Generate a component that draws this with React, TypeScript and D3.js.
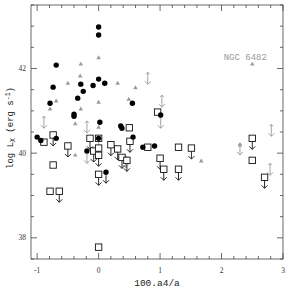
import React from "react";
import * as d3 from "d3";

// filled circles: detections
const circles: [number, number][] = [
  [0, 42.98], [0, 42.79], [-0.69, 42.08], [-0.74, 41.56], [-0.79, 41.18],
  [0, 41.75], [-0.29, 41.63], [-0.09, 41.6], [0.1, 41.65], [-0.25, 41.46],
  [-0.34, 41.3], [-0.4, 40.92], [-0.4, 40.87], [0.02, 40.73], [0.55, 41.18],
  [0.36, 40.64], [0.38, 40.59], [-1.0, 40.38], [-0.94, 40.3], [-0.69, 40.35],
  [0.56, 40.38], [0.72, 40.14], [1.01, 40.9], [0.91, 40.17], [-0.19, 40.05],
  [0, 40.35]
];
// filled circles with upper limit arrow
const circleLimits: [number, number][] = [[0.12, 39.55]];
// open squares
const squares: [number, number][] = [
  [0.96, 40.97], [-0.89, 40.26], [-0.74, 39.72], [-0.79, 39.1], [0, 37.78],
  [1.3, 40.14], [0.5, 40.6], [2.5, 39.83], [0.8, 40.14], [0, 40.35]
];
// open squares with upper limit arrow
const squareLimits: [number, number][] = [
  [-0.74, 40.43], [-0.5, 40.17], [-0.64, 39.1], [-0.14, 40.35], [-0.08, 40.05],
  [0, 40.12], [0, 39.95], [0, 39.5], [0.2, 40.2], [0.31, 40.1], [0.38, 39.9],
  [0.46, 39.83], [0.51, 40.28], [1.51, 40.12], [1.0, 39.88], [1.06, 39.62],
  [1.3, 39.62], [2.5, 40.35], [2.7, 39.43]
];
// grey triangles
const triangles: [number, number][] = [
  [-0.29, 42.1], [-0.3, 41.82], [-0.5, 41.65], [-0.69, 41.23], [-0.79, 41.04],
  [-0.29, 41.04], [-0.38, 40.69], [0, 42.25], [0, 41.2], [0, 40.61],
  [0.31, 41.65], [0.6, 41.54], [0.49, 41.27], [2.5, 42.1], [2.3, 40.19],
  [1.67, 39.81], [-0.38, 39.95]
];
// grey double arrows
const greyArrows: [number, number][] = [
  [-0.89, 40.73], [-0.19, 40.62], [0.8, 41.77], [1.03, 41.23], [1.01, 40.73],
  [2.81, 40.54], [2.3, 40.1], [2.79, 39.62], [-0.19, 39.9], [0, 40.2], [0.44, 39.8]
];
const xTicks = [-1, 0, 1, 2, 3];
const yTicks = [38, 40, 42];

const App = () => {
  const ref = React.useRef<SVGSVGElement>(null);

  React.useEffect(() => {
    const width = 289;
    const height = 300;
    const margin = { left: 31, right: 6, top: 5, bottom: 41 };

    const svg = d3.select(ref.current);
    svg.selectAll("*").remove();

    const x = d3.scaleLinear().domain([-1.1, 3]).range([margin.left, width - margin.right]);
    const y = d3.scaleLinear().domain([37.5, 43.5]).range([height - margin.bottom, margin.top]);
    const [x0, x1] = x.range();
    const [y0, y1] = y.range();
    const grey = "#9a9a9a";

    // frame
    svg.append("rect")
      .attr("x", x0).attr("y", y1)
      .attr("width", x1 - x0).attr("height", y0 - y1)
      .attr("fill", "none").attr("stroke", "#444").attr("stroke-width", 0.8);

    // ticks, inward on all four sides
    const ticks = svg.append("g").attr("stroke", "#444").attr("stroke-width", 0.8);
    d3.range(-1, 3.001, 0.2).forEach(v => {
      const major = Math.abs(v - Math.round(v)) < 1e-6;
      const len = major ? 6 : 3;
      ticks.append("line").attr("x1", x(v)).attr("x2", x(v)).attr("y1", y0).attr("y2", y0 - len);
      ticks.append("line").attr("x1", x(v)).attr("x2", x(v)).attr("y1", y1).attr("y2", y1 + len);
    });
    d3.range(37.5, 43.501, 0.5).forEach(v => {
      const major = Math.abs(v - Math.round(v)) < 1e-6 && Math.round(v) % 2 === 0;
      const len = major ? 6 : 3;
      ticks.append("line").attr("y1", y(v)).attr("y2", y(v)).attr("x1", x0).attr("x2", x0 + len);
      ticks.append("line").attr("y1", y(v)).attr("y2", y(v)).attr("x1", x1).attr("x2", x1 - len);
    });

    // tick labels
    svg.append("g").selectAll("text").data(xTicks).join("text")
      .attr("x", d => x(d)).attr("y", y0 + 14)
      .attr("text-anchor", "middle")
      .attr("font-family", "Liberation Serif").attr("font-size", 7.5).attr("fill", "#333")
      .text(d => d);
    svg.append("g").selectAll("text").data(yTicks).join("text")
      .attr("x", x0 - 5).attr("y", d => y(d) + 2.5)
      .attr("text-anchor", "end")
      .attr("font-family", "Liberation Serif").attr("font-size", 7.5).attr("fill", "#333")
      .text(d => d);

    // axis titles
    svg.append("text")
      .attr("x", (x0 + x1) / 2 + 0).attr("y", height - 14)
      .attr("text-anchor", "middle")
      .attr("font-family", "Liberation Mono").attr("font-size", 9.5).attr("fill", "#222")
      .text("100.a4/a");
    const yl = svg.append("text")
      .attr("transform", `translate(13,${(y0 + y1) / 2 - 4}) rotate(-90)`)
      .attr("text-anchor", "middle")
      .attr("font-family", "Liberation Mono").attr("font-size", 9).attr("fill", "#222");
    yl.append("tspan").text("log L");
    yl.append("tspan").attr("font-size", 6.5).attr("dy", 2).text("X");
    yl.append("tspan").attr("dy", -2).text(" (erg s");
    yl.append("tspan").attr("font-size", 6.5).attr("dy", -3).text("-1");
    yl.append("tspan").attr("dy", 3).text(")");

    // grey triangles
    svg.append("g").selectAll("path").data(triangles).join("path")
      .attr("transform", d => `translate(${x(d[0])},${y(d[1])})`)
      .attr("d", d3.symbol(d3.symbolTriangle, 9)())
      .attr("fill", grey);

    // grey double arrows
    const ga = svg.append("g").attr("stroke", grey).attr("stroke-width", 0.9).attr("fill", "none");
    greyArrows.forEach(([a, b]) => {
      const px = x(a), py = y(b);
      ga.append("path").attr("d",
        `M${px},${py - 6}L${px},${py + 6}` +
        `M${px - 1.8},${py - 4}L${px},${py - 6}L${px + 1.8},${py - 4}` +
        `M${px - 3},${py + 3}L${px},${py + 6}L${px + 3},${py + 3}`);
    });

    // down arrows for upper limits
    const arrows = svg.append("g").attr("stroke", "#111").attr("stroke-width", 0.9).attr("fill", "none");
    [...squareLimits, ...circleLimits].forEach(([a, b]) => {
      const px = x(a), py = y(b);
      arrows.append("path").attr("d",
        `M${px},${py + 3}L${px},${py + 11}M${px - 3},${py + 8}L${px},${py + 11}L${px + 3},${py + 8}`);
    });

    // open squares
    svg.append("g").selectAll("rect").data([...squares, ...squareLimits]).join("rect")
      .attr("x", d => x(d[0]) - 3.2).attr("y", d => y(d[1]) - 3.2)
      .attr("width", 6.4).attr("height", 6.4)
      .attr("fill", "white").attr("stroke", "#111").attr("stroke-width", 0.9);

    // filled circles
    svg.append("g").selectAll("circle").data([...circles, ...circleLimits]).join("circle")
      .attr("cx", d => x(d[0])).attr("cy", d => y(d[1]))
      .attr("r", 2.7).attr("fill", "#000");

    // annotation
    svg.append("text")
      .attr("x", x(2.5) - 7).attr("y", y(42.1) - 4)
      .attr("text-anchor", "middle")
      .attr("font-family", "Liberation Mono").attr("font-size", 9).attr("fill", grey)
      .text("NGC 6482");
  }, []);

  return (
    <svg
      ref={ref}
      width={289}
      height={300}
      style={{ position: "absolute", left: 0, top: 0, background: "white" }}
    />
  );
};

export default App;
